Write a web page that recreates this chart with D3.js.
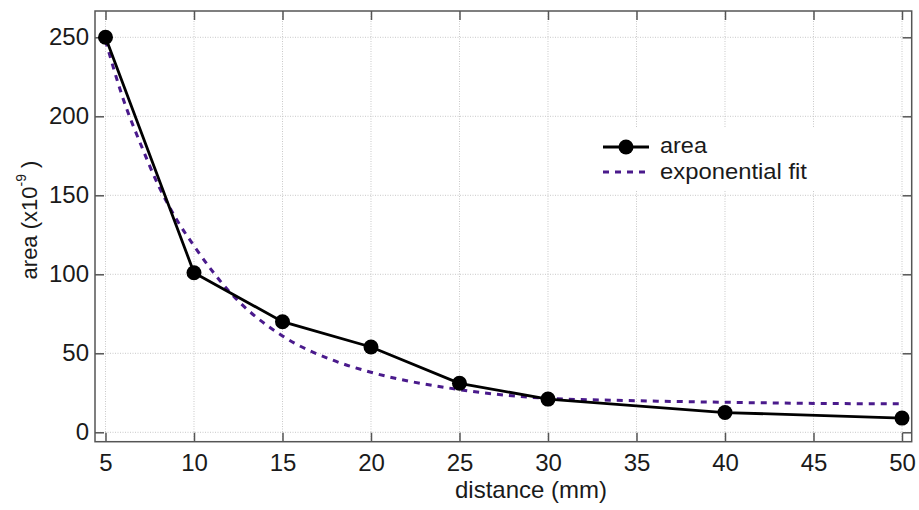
<!DOCTYPE html>
<html>
<head>
<meta charset="utf-8">
<script src="https://cdn.jsdelivr.net/npm/d3@7"></script>
<style>
  html, body { margin: 0; padding: 0; background: #fff; }
  svg text { font-family: "Liberation Sans", Arial, sans-serif; fill: #1a1a1a; }
</style>
</head>
<body>
<svg id="chart" width="919" height="510"></svg>
<script>
// ---- data ----
const distance = [5, 10, 15, 20, 25, 30, 40, 50];
const area = [250, 101, 70, 54, 31, 21, 12.5, 9];
const fitDistance = [5, 6, 7, 8, 9, 10, 12, 15, 18, 20, 25, 30, 35, 40, 45, 50];
const fitArea = [248, 211, 182, 156, 135, 118, 89, 61, 45, 38, 27, 21.5, 20, 19, 18.3, 18];
const xTicks = [5, 10, 15, 20, 25, 30, 35, 40, 45, 50];
const yTicks = [0, 50, 100, 150, 200, 250];
const seriesNames = ["area", "exponential fit"];
const xTitle = "distance (mm)";

// ---- layout ----
const svg = d3.select("#chart");
const L = 95, R = 911.7, T = 11, B = 441.7;
const x = d3.scaleLinear().domain([4.407, 50.548]).range([L, R]);
const y = d3.scaleLinear().domain([-5.95, 266.65]).range([B, T]);
const frameColor = "#555";
const fontSize = 24;
const legendFont = 22.5;

// grid
const grid = svg.append("g");
grid.selectAll("line.gx").data(xTicks).join("line")
  .attr("x1", d => x(d)).attr("x2", d => x(d)).attr("y1", T).attr("y2", B)
  .attr("stroke", "#c8c8c8").attr("stroke-width", 1).attr("stroke-dasharray", "1,1.5");
grid.selectAll("line.gy").data(yTicks).join("line")
  .attr("y1", d => y(d)).attr("y2", d => y(d)).attr("x1", L).attr("x2", R)
  .attr("stroke", "#c8c8c8").attr("stroke-width", 1).attr("stroke-dasharray", "1,1.5");

// axes
function styleAxis(g) {
  g.select(".domain").remove();
  g.selectAll(".tick line").attr("stroke", frameColor).attr("stroke-width", 1.5);
  g.selectAll(".tick text").attr("font-size", fontSize).attr("fill", "#1a1a1a")
   .attr("font-family", "'Liberation Sans', Arial, sans-serif");
}
svg.append("g").attr("transform", `translate(0,${B})`)
  .call(d3.axisBottom(x).tickValues(xTicks).tickSizeInner(-9).tickSizeOuter(0).tickPadding(12).tickFormat(d3.format("d")))
  .call(styleAxis);
svg.append("g").attr("transform", `translate(0,${T})`)
  .call(d3.axisTop(x).tickValues(xTicks).tickSizeInner(-9).tickSizeOuter(0).tickFormat(""))
  .call(styleAxis);
svg.append("g").attr("transform", `translate(${L},0)`)
  .call(d3.axisLeft(y).tickValues(yTicks).tickSizeInner(-9).tickSizeOuter(0).tickPadding(6).tickFormat(d3.format("d")))
  .call(styleAxis);
svg.append("g").attr("transform", `translate(${R},0)`)
  .call(d3.axisRight(y).tickValues(yTicks).tickSizeInner(-9).tickSizeOuter(0).tickFormat(""))
  .call(styleAxis);

// frame
svg.append("rect").attr("x", L).attr("y", T).attr("width", R - L).attr("height", B - T)
  .attr("fill", "none").attr("stroke", frameColor).attr("stroke-width", 1.5);

// fit line
const fitPts = fitDistance.map((d, i) => [d, fitArea[i]]);
svg.append("path").datum(fitPts)
  .attr("d", d3.line().x(d => x(d[0])).y(d => y(d[1])).curve(d3.curveMonotoneX))
  .attr("fill", "none").attr("stroke", "#4a1a8c").attr("stroke-width", 3)
  .attr("stroke-dasharray", "6,6");

// data line
const pts = distance.map((d, i) => [d, area[i]]);
svg.append("path").datum(pts)
  .attr("d", d3.line().x(d => x(d[0])).y(d => y(d[1])))
  .attr("fill", "none").attr("stroke", "#000").attr("stroke-width", 2.8);
svg.selectAll("circle.pt").data(pts).join("circle")
  .attr("cx", d => x(d[0])).attr("cy", d => y(d[1])).attr("r", 7.5).attr("fill", "#000");

// legend
const lg = svg.append("g");
lg.append("rect").attr("x", 592).attr("y", 128).attr("width", 240).attr("height", 62).attr("fill", "#fff");
lg.append("line").attr("x1", 603).attr("x2", 649).attr("y1", 147).attr("y2", 147)
  .attr("stroke", "#000").attr("stroke-width", 2.8);
lg.append("circle").attr("cx", 626).attr("cy", 147).attr("r", 7.5).attr("fill", "#000");
lg.append("text").attr("x", 660).attr("y", 153).attr("font-size", legendFont)
  .attr("textLength", 47).attr("lengthAdjust", "spacingAndGlyphs").text(seriesNames[0]);
lg.append("line").attr("x1", 603).attr("x2", 649).attr("y1", 172).attr("y2", 172)
  .attr("stroke", "#4a1a8c").attr("stroke-width", 3).attr("stroke-dasharray", "6,6");
lg.append("text").attr("x", 660).attr("y", 179).attr("font-size", legendFont)
  .attr("textLength", 147).attr("lengthAdjust", "spacingAndGlyphs").text(seriesNames[1]);

// axis titles
svg.append("text").attr("x", 531).attr("y", 498).attr("text-anchor", "middle")
  .attr("font-size", fontSize).text(xTitle);
const yt = svg.append("text").attr("transform", "translate(37,220) rotate(-90)")
  .attr("text-anchor", "middle").attr("font-size", 22);
yt.append("tspan").text("area (x10");
yt.append("tspan").attr("font-size", 14).attr("dy", -11).text("-9");
yt.append("tspan").attr("dy", 11).text(" )");
</script>
</body>
</html>
